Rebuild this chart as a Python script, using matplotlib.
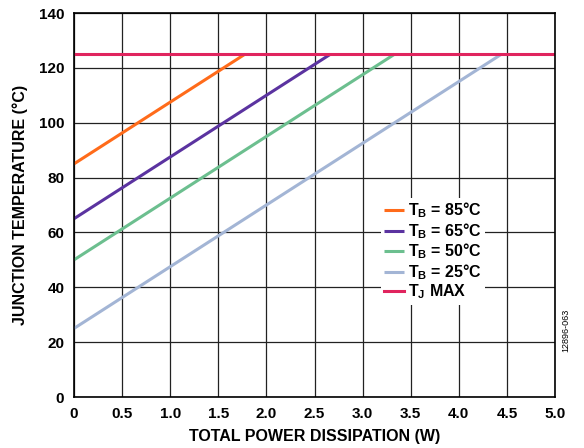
import matplotlib
matplotlib.use("Agg")
import matplotlib.pyplot as plt
import numpy as np

plt.rcParams['font.family'] = ['Liberation Sans', 'DejaVu Sans']
plt.rcParams['mathtext.fontset'] = 'custom'
plt.rcParams['mathtext.rm'] = 'Liberation Sans:bold'
plt.rcParams['mathtext.bf'] = 'Liberation Sans:bold'
plt.rcParams['mathtext.it'] = 'Liberation Sans:bold'

tb_values = [85, 65, 50, 25]
labels = ['T$_\\mathregular{B}$ = 85°C', 'T$_\\mathregular{B}$ = 65°C', 'T$_\\mathregular{B}$ = 50°C', 'T$_\\mathregular{B}$ = 25°C']
colors = ['#FF6B1A', '#5B33A0', '#6CBF8F', '#A3B5D5']
theta = 22.5  # °C/W slope
tj_max = 125
x_max = 5.0

fig = plt.figure(figsize=(5.84, 4.48), dpi=100)
ax = fig.add_axes([74/584, 1-397/448, (555-74)/584, (397-13)/448])

for tb, lab, c in zip(tb_values, labels, colors):
    p_end = (tj_max - tb) / theta
    x = np.array([0, p_end])
    ax.plot(x, tb + theta * x, color=c, lw=2.2, label=lab, solid_capstyle='butt')
ax.plot([0, x_max], [tj_max, tj_max], color='#E0245E', lw=2.2, label='T$_\\mathregular{J}$ MAX')

ax.set_xlim(0, 5)
ax.set_ylim(0, 140)
ax.set_xticks(np.arange(0, 5.01, 0.5))
ax.set_xticklabels(['0'] + [f'{v:.1f}' for v in np.arange(0.5, 5.01, 0.5)])
ax.set_yticks(np.arange(0, 141, 20))
ax.grid(True, color='#222222', lw=0.9)
ax.tick_params(length=0, labelsize=11, pad=7)
for t in ax.get_xticklabels() + ax.get_yticklabels():
    t.set_fontweight('bold')
for s in ax.spines.values():
    s.set_linewidth(1.2)
ax.set_xlabel('TOTAL POWER DISSIPATION (W)', fontsize=11.5, fontweight='bold', labelpad=6)
ax.set_ylabel('JUNCTION TEMPERATURE (°C)', fontsize=11.5, fontweight='bold', labelpad=8)

leg = ax.legend(loc='center left', bbox_to_anchor=(0.622, 0.38), frameon=True, fancybox=False,
                edgecolor='none', framealpha=1, prop={'weight': 'bold', 'size': 11.5},
                handlelength=1.2, handletextpad=0.25, labelspacing=0.05, borderpad=0.2)

fig.text(566/584, 1-330/448, '12896-063', rotation=90, fontsize=6.5, ha='center', va='center')

fig.savefig('out.png', dpi=100)
